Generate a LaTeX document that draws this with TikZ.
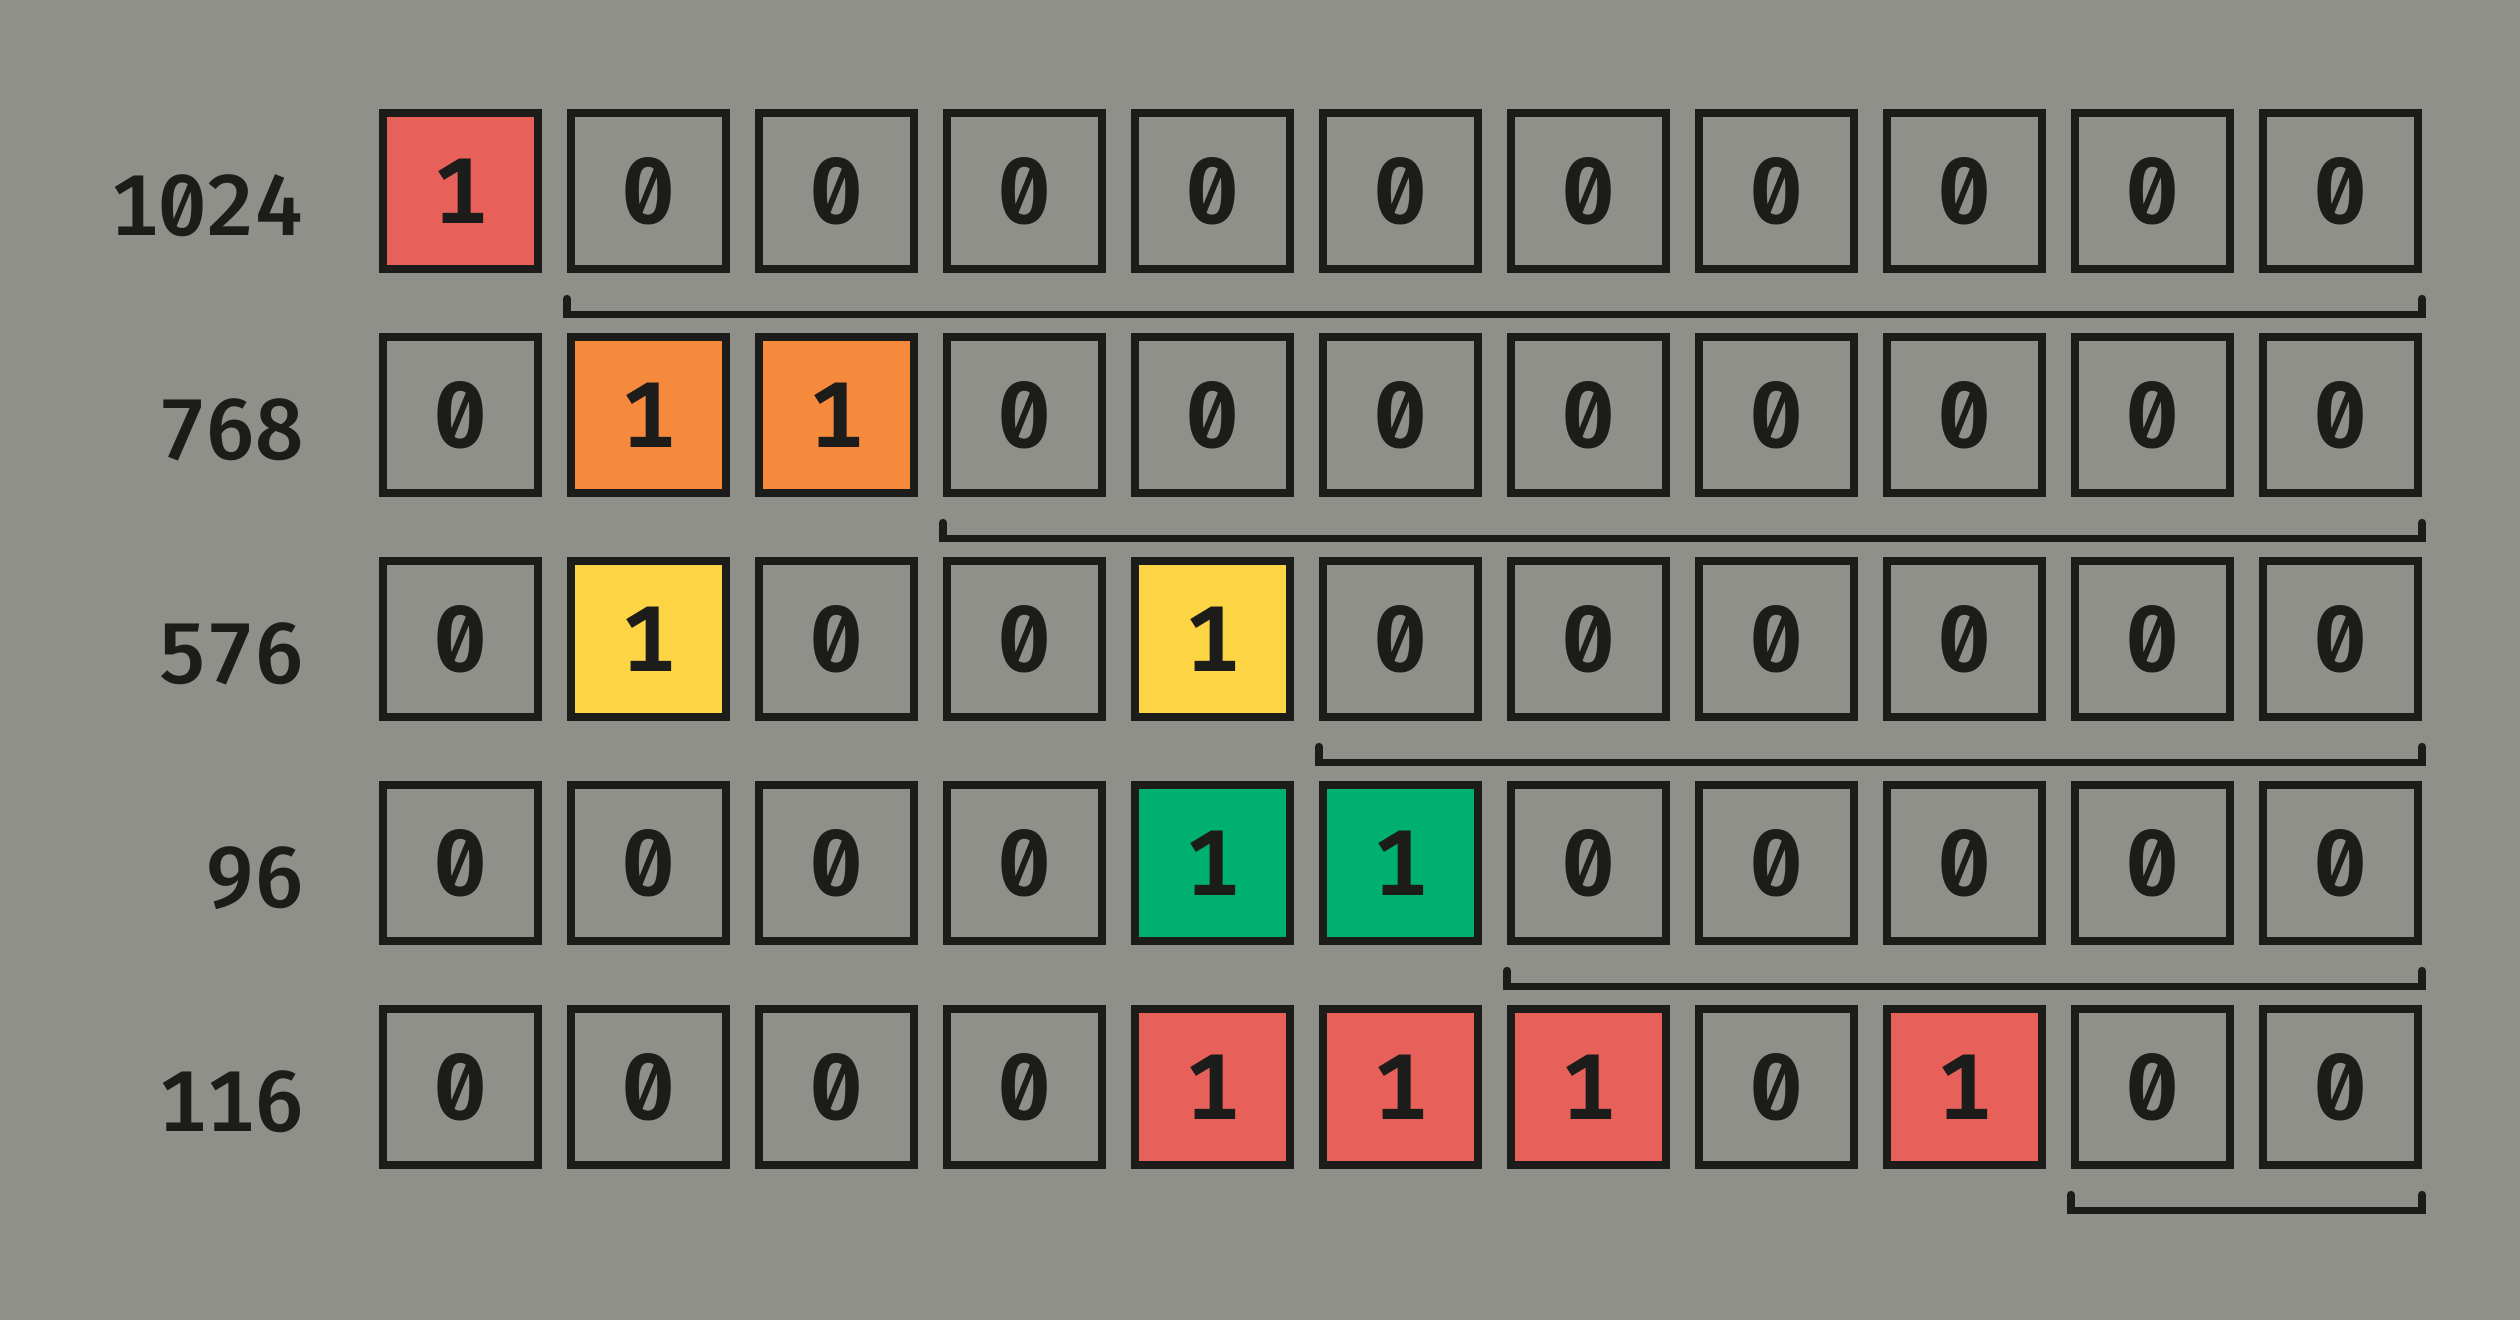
\documentclass[tikz,border=0pt]{standalone}
\usepackage{fontspec}
\newfontfamily\cellfont{Fira Sans SemiBold}[RawFeature={+zero;+tnum}]
\newfontfamily\labelfont{Fira Sans Medium}[RawFeature={+zero;+tnum}]
\definecolor{bg}{HTML}{8F908A}
\definecolor{ink}{HTML}{1C1C1A}
\definecolor{cred}{HTML}{E8605A}
\definecolor{corange}{HTML}{F68A3C}
\definecolor{cyellow}{HTML}{FDD444}
\definecolor{cgreen}{HTML}{00AF72}
\begin{document}
\begin{tikzpicture}[x=0.01cm,y=-0.01cm,
  cell/.style={draw=ink, line width=0.08cm, minimum size=1.55cm, inner sep=0pt,
    text=ink, font=\cellfont\fontsize{26.5pt}{26.5pt}\selectfont},
  rowlabel/.style={anchor=base east, inner sep=0pt, text=ink,
    font=\labelfont\fontsize{24.5pt}{24.5pt}\selectfont},
  bracket/.style={draw=ink, line width=0.075cm, line cap=round, line join=miter}]
\fill[bg] (0,0) rectangle (2520,1320);
\useasboundingbox (0,0) rectangle (2520,1320);
% rows: label, bits, colour of ones
\foreach \lab/\bits/\col [count=\j from 0] in
  {1024/{1,0,0,0,0,0,0,0,0,0,0}/cred,
   768/{0,1,1,0,0,0,0,0,0,0,0}/corange,
   576/{0,1,0,0,1,0,0,0,0,0,0}/cyellow,
   96/{0,0,0,0,1,1,0,0,0,0,0}/cgreen,
   116/{0,0,0,0,1,1,1,0,1,0,0}/cred}{
  \node[rowlabel] (l-\j) at (304,235+224*\j) {\lab};
  \foreach \b [count=\i from 0] in \bits {
    \ifnum\b=1
      \node[cell, fill=\col] (c-\j-\i) at (460.5+188*\i,191+224*\j) {1};
    \else
      \node[cell] (c-\j-\i) at (460.5+188*\i,191+224*\j) {0};
    \fi
  }
}
\foreach \j/\k in {0/1,1/3,2/5,3/6,4/9}{
  \draw[bracket] ([yshift=-0.26cm]c-\j-\k.south west) -- ([yshift=-0.42cm]c-\j-\k.south west)
    -- ([yshift=-0.42cm]c-\j-10.south east) -- ([yshift=-0.26cm]c-\j-10.south east);
}
\end{tikzpicture}
\end{document}
